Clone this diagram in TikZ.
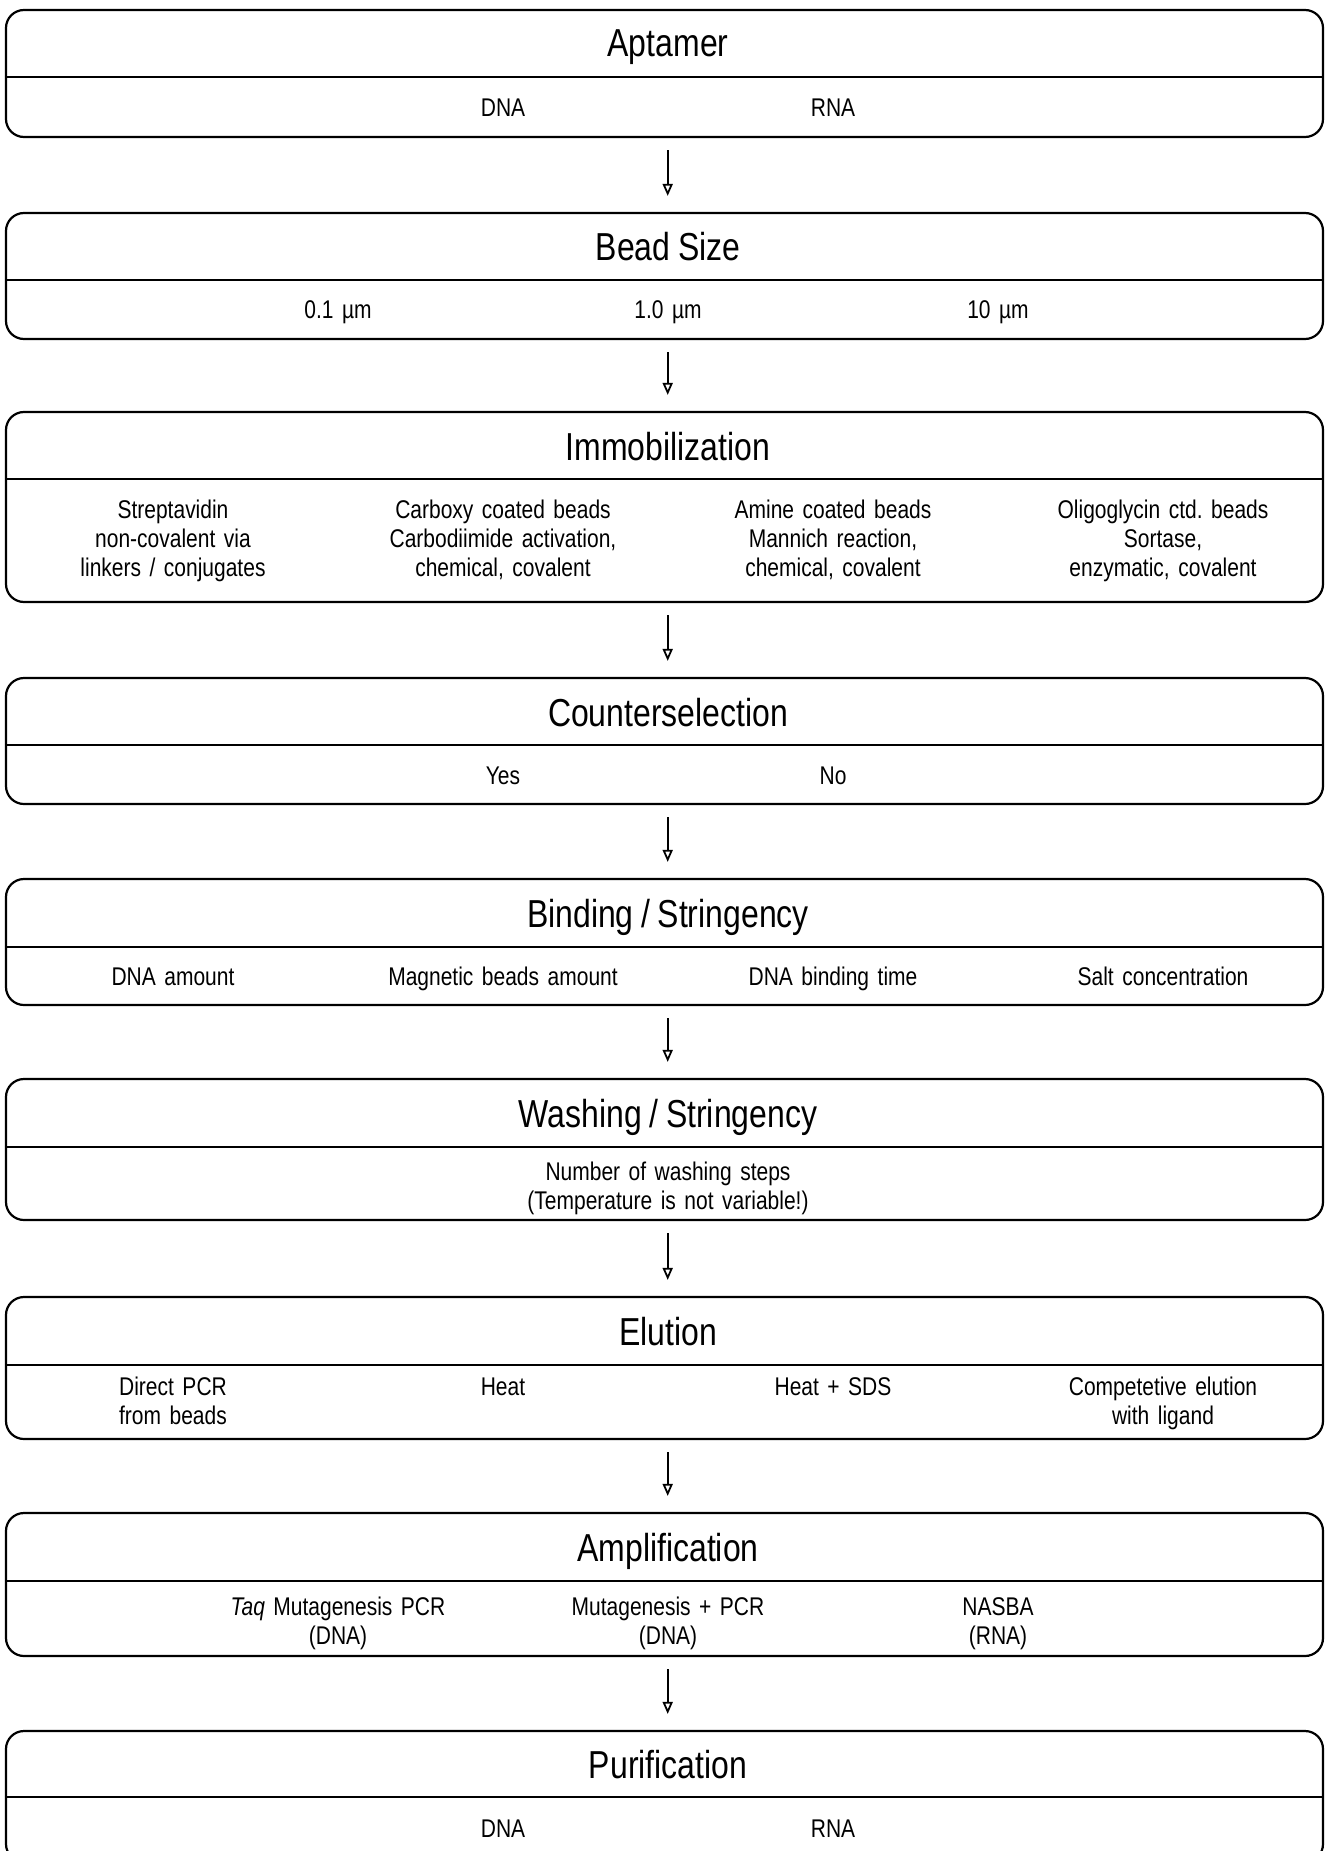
\documentclass[tikz,border=0pt]{standalone}
\usepackage{fontspec}
\setmainfont{Liberation Sans}[FakeStretch=0.82, WordSpace=0.85]
\frenchspacing
\usetikzlibrary{arrows.meta}
\tikzset{
    frame box/.style={
        draw, line width=1.1pt, rounded corners=9pt,
        minimum width=658.5pt, inner sep=0pt
    },
    divider/.style={line width=1.1pt},
    title text/.style={anchor=base, inner sep=0pt, font=\fontsize{19.5}{23}\selectfont},
    body text/.style={
        anchor=base, inner sep=0pt, text width=160pt, align=center,
        font=\fontsize{12.8}{14.6}\selectfont
    },
    flow arrow/.style={
        line width=1.2pt, -{Triangle[open, length=6pt, width=5pt, line width=0.9pt]},
        shorten <=6pt, shorten >=8pt
    }
}

\begin{document}
\begin{tikzpicture}[x=0.5pt, y=-0.5pt]

\useasboundingbox (0,0) rectangle (1325,1851);

% Dibujar los marcos de cada etapa.
\node[frame box, minimum height=63.5pt] (BoxAptamer) at (664.5, 73.5) {};
\node[frame box, minimum height=63pt] (BoxBeadSize) at (664.5, 276) {};
\node[frame box, minimum height=95pt] (BoxImmobilization) at (664.5, 507) {};
\node[frame box, minimum height=63pt] (BoxCounterselection) at (664.5, 741) {};
\node[frame box, minimum height=63pt] (BoxBinding) at (664.5, 942) {};
\node[frame box, minimum height=70.5pt] (BoxWashing) at (664.5, 1149.5) {};
\node[frame box, minimum height=71pt] (BoxElution) at (664.5, 1368) {};
\node[frame box, minimum height=71.5pt] (BoxAmplification) at (664.5, 1584.5) {};
\node[frame box, minimum height=65.5pt] (BoxPurification) at (664.5, 1796.5) {};

% Separar el titulo de las opciones.
\draw[divider] (BoxAptamer.west |- 0,77) -- (BoxAptamer.east |- 0,77);
\draw[divider] (BoxBeadSize.west |- 0,280) -- (BoxBeadSize.east |- 0,280);
\draw[divider] (BoxImmobilization.west |- 0,479) -- (BoxImmobilization.east |- 0,479);
\draw[divider] (BoxCounterselection.west |- 0,745) -- (BoxCounterselection.east |- 0,745);
\draw[divider] (BoxBinding.west |- 0,947) -- (BoxBinding.east |- 0,947);
\draw[divider] (BoxWashing.west |- 0,1147) -- (BoxWashing.east |- 0,1147);
\draw[divider] (BoxElution.west |- 0,1365) -- (BoxElution.east |- 0,1365);
\draw[divider] (BoxAmplification.west |- 0,1581) -- (BoxAmplification.east |- 0,1581);
\draw[divider] (BoxPurification.west |- 0,1797) -- (BoxPurification.east |- 0,1797);

% Nombrar cada etapa.
\node[title text] (TitleAptamer) at (668, 57) {Aptamer};
\node[title text] (TitleBeadSize) at (668, 260) {Bead Size};
\node[title text] (TitleImmobilization) at (668, 460.5) {Immobilization};
\node[title text] (TitleCounterselection) at (668, 726) {Counterselection};
\node[title text] (TitleBinding) at (668, 927.5) {Binding / Stringency};
\node[title text] (TitleWashing) at (668, 1127.5) {Washing / Stringency};
\node[title text] (TitleElution) at (668, 1345.5) {Elution};
\node[title text] (TitleAmplification) at (668, 1561.5) {Amplification};
\node[title text] (TitlePurification) at (668, 1778.5) {Purification};

% Opciones de cada etapa.
\node[body text] (AptamerDNA) at (503, 117) {DNA};
\node[body text] (AptamerRNA) at (833, 117) {RNA};

\node[body text] (BeadSmall) at (338, 318.5) {0.1 µm};
\node[body text] (BeadMedium) at (668, 318.5) {1.0 µm};
\node[body text] (BeadLarge) at (998, 318.5) {10 µm};

\node[body text] (ImmoStreptavidin) at (173, 518) {Streptavidin\\non-covalent via\\linkers / conjugates};
\node[body text] (ImmoCarboxy) at (503, 518) {Carboxy coated beads\\Carbodiimide activation,\\chemical, covalent};
\node[body text] (ImmoAmine) at (833, 518) {Amine coated beads\\Mannich reaction,\\chemical, covalent};
\node[body text] (ImmoOligoglycin) at (1163, 518) {Oligoglycin ctd. beads\\Sortase,\\enzymatic, covalent};

\node[body text] (CounterYes) at (503, 784) {Yes};
\node[body text] (CounterNo) at (833, 784) {No};

\node[body text] (BindingDNA) at (173, 985) {DNA amount};
\node[body text] (BindingBeads) at (503, 985) {Magnetic beads amount};
\node[body text] (BindingTime) at (833, 985) {DNA binding time};
\node[body text] (BindingSalt) at (1163, 985) {Salt concentration};

\node[body text] (WashingSteps) at (668, 1180.5) {Number of washing steps\\(Temperature is not variable!)};

\node[body text] (ElutionPCR) at (173, 1395) {Direct PCR\\from beads};
\node[body text] (ElutionHeat) at (503, 1395) {Heat};
\node[body text] (ElutionSDS) at (833, 1395) {Heat + SDS};
\node[body text] (ElutionLigand) at (1163, 1395) {Competetive elution\\with ligand};

\node[body text] (AmpTaq) at (338, 1615) {\textit{Taq} Mutagenesis PCR\\(DNA)};
\node[body text] (AmpMutagenesis) at (668, 1615) {Mutagenesis + PCR\\(DNA)};
\node[body text] (AmpNASBA) at (998, 1615) {NASBA\\(RNA)};

\node[body text] (PurificationDNA) at (503, 1837) {DNA};
\node[body text] (PurificationRNA) at (833, 1837) {RNA};

% Unir las etapas con flechas.
\draw[flow arrow] ([xshift=1.6pt]BoxAptamer.south) -- ([xshift=1.6pt]BoxBeadSize.north);
\draw[flow arrow] ([xshift=1.6pt]BoxBeadSize.south) -- ([xshift=1.6pt]BoxImmobilization.north);
\draw[flow arrow] ([xshift=1.6pt]BoxImmobilization.south) -- ([xshift=1.6pt]BoxCounterselection.north);
\draw[flow arrow] ([xshift=1.6pt]BoxCounterselection.south) -- ([xshift=1.6pt]BoxBinding.north);
\draw[flow arrow] ([xshift=1.6pt]BoxBinding.south) -- ([xshift=1.6pt]BoxWashing.north);
\draw[flow arrow] ([xshift=1.6pt]BoxWashing.south) -- ([xshift=1.6pt]BoxElution.north);
\draw[flow arrow] ([xshift=1.6pt]BoxElution.south) -- ([xshift=1.6pt]BoxAmplification.north);
\draw[flow arrow] ([xshift=1.6pt]BoxAmplification.south) -- ([xshift=1.6pt]BoxPurification.north);

\end{tikzpicture}
\end{document}
